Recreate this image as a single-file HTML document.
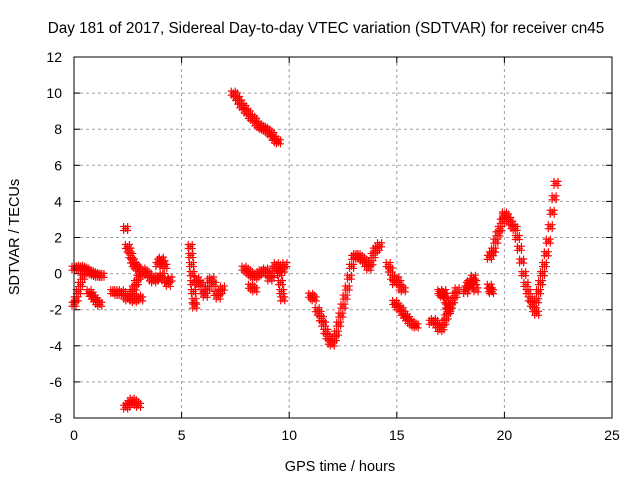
<!DOCTYPE html>
<html><head><meta charset="utf-8"><style>
body{margin:0;background:#fff}
svg{display:block;font-family:"Liberation Sans",sans-serif}
</style></head><body>
<svg id="c" width="640" height="480">
<text x="326" y="33" text-anchor="middle" font-size="15.3">Day 181 of 2017, Sidereal Day-to-day VTEC variation (SDTVAR) for receiver cn45</text>
<text x="340" y="471" text-anchor="middle" font-size="14.5">GPS time / hours</text>
<text transform="translate(19,237) rotate(-90)" text-anchor="middle" font-size="14.5">SDTVAR / TECUs</text>
<g id="grid"></g>
<g id="ticks"></g>
<g id="pts"></g>
<rect x="74" y="57" width="538" height="361" fill="none" stroke="#000"/>
</svg>
<script>
const xTicks=[0,5,10,15,20,25];
const yTicks=[-8,-6,-4,-2,0,2,4,6,8,10,12];
// tracks: start time (h), sampling step (h), values (TECU)
const trackStarts=[0.0,0.0,0.7,1.8,2.4,2.7,3.9,2.4,5.4,5.7,7.4,7.9,8.2,11.0,11.3,13.1,14.6,14.9,16.6,17.0,18.2,19.3,19.3,20.0,21.5,9.5];
const trackSteps=[0.1,0.1,0.1,0.1,0.08,0.1,0.08,0.1,0.03,0.1,0.1,0.1,0.1,0.08,0.1,0.1,0.1,0.1,0.1,0.06,0.06,0.1,0.05,0.1,0.09,0.05];
const trackValues=[
[0.3,0.3,0.3,0.35,0.3,0.25,0.2,0.1,0.05,0,-0.05,-0.1,-0.1,-0.1],
[-1.7,-1.4,-1.0,-0.6,-0.2,0.1],
[-1.0,-1.15,-1.3,-1.45,-1.6,-1.7],
[-1.0,-1.0,-1.1,-1.1,-1.0,-1.1,-1.3,-1.4,-1.3,-1.4,-1.5,-1.4,-1.3,-1.4],
[2.5,1.5,1.3,1.0,0.7,0.5,0.4,0.3],
[-1.0,-0.8,-0.5,-0.2,0,0.2,0.1,0,-0.1,-0.3,-0.4,-0.3,-0.2,-0.3,-0.1],
[0.5,0.7,0.8,0.6,0.4,-0.4,-0.6,-0.3],
[-7.4,-7.3,-7.15,-7.0,-7.1,-7.2,-7.3],
[1.5,1.0,0.5,0,-0.5,-1.0,-1.5,-1.8],
[-0.3,-0.5,-0.6,-1.0,-1.2,-0.8,-0.4,-0.3,-0.6,-1.1,-1.3,-1.0,-0.8],
[10,9.9,9.7,9.5,9.3,9.2,9.0,8.9,8.7,8.6,8.5,8.3,8.2,8.1,8.05,8.0,7.9,7.8,7.7,7.5,7.35,7.3],
[0.3,0.2,0.1,0.0,-0.1,-0.2,-0.1,0,0.1,0.1,0.2,0.0,-0.3,-0.1,0.3,0.5,0.4,0.3,0.2,0.5],
[-0.7,-0.8,-0.9],
[-1.2,-1.3,-1.4],
[-2.0,-2.2,-2.5,-2.8,-3.2,-3.5,-3.8,-3.9,-3.6,-3.3,-2.8,-2.3,-1.8,-1.3,-0.8,-0.2,0.4,0.9,1.0],
[1.0,1.0,0.9,0.8,0.7,0.5,0.3,0.6,1.0,1.3,1.4,1.6],
[0.5,0.2,-0.2,-0.5,-0.3,-0.5,-0.8,-0.9],
[-1.6,-1.75,-1.9,-2.0,-2.2,-2.35,-2.5,-2.65,-2.75,-2.85,-2.9],
[-2.7,-2.6,-2.7,-2.9,-3.1,-3.0,-2.7,-2.4,-2.1,-1.8,-1.5,-1.2,-0.9],
[-1.0,-1.1,-1.2,-1.0,-1.2,-1.5,-1.8,-2.0],
[-1.0,-0.8,-0.6,-0.5,-0.7,-0.4,-0.2,-0.5,-0.9],
[0.9,1.1,1.3,1.8,2.2,2.5,2.9,3.2],
[-0.7,-0.9,-1.0],
[3.3,3.2,3.0,2.8,2.6,2.5,2.0,1.4,0.7,0.0,-0.6,-1.0,-1.4,-1.7,-2.0,-2.2],
[-1.5,-1.0,-0.5,0,0.5,1.1,1.8,2.6,3.4,4.2,5.0],
[0.3,0.0,-0.5,-1.0,-1.4]
];
const L=74,R=612,T=57,B=418;
const xs=v=>L+(v-0)/25*(R-L);
const ys=v=>B-(v+8)/20*(B-T);
const NS='http://www.w3.org/2000/svg';
const g=document.getElementById('grid'),tk=document.getElementById('ticks'),p=document.getElementById('pts');
function mk(tag,at,parent){const e=document.createElementNS(NS,tag);for(const k in at)e.setAttribute(k,at[k]);parent.appendChild(e);return e;}
xTicks.forEach(v=>{const x=xs(v);
 if(v>0&&v<25){const l=mk('line',{x1:x,x2:x,y1:T,y2:B,stroke:'#a0a0a0','stroke-dasharray':'3,3'},g);
 
 }
 mk('line',{x1:x,x2:x,y1:B,y2:B-6,stroke:'#000'},tk);mk('line',{x1:x,x2:x,y1:T,y2:T+6,stroke:'#000'},tk);
 const t=mk('text',{x:x,y:B+22,'text-anchor':'middle','font-size':14},tk);t.textContent=v;
 
 
});
yTicks.forEach(v=>{const y=ys(v);
 if(v>-8&&v<12){const l=mk('line',{x1:L,x2:R,y1:y,y2:y,stroke:'#a0a0a0','stroke-dasharray':'3,3'},g);
 
 }
 mk('line',{x1:L,x2:L+6,y1:y,y2:y,stroke:'#000'},tk);mk('line',{x1:R,x2:R-6,y1:y,y2:y,stroke:'#000'},tk);
 const t=mk('text',{x:L-12,y:y+5,'text-anchor':'end','font-size':14},tk);t.textContent=v;
 
 
});
const offs=[[-2,-2],[2,-2],[0,0],[-2,2],[2,2]];
trackValues.forEach((vals,i)=>{
 vals.forEach((v,j)=>{
  const x=xs(trackStarts[i]+j*trackSteps[i]),y=ys(v);
  offs.forEach(o=>{
   const m=mk('path',{d:`M${x+o[0]-3.5},${y+o[1]}h7M${x+o[0]},${y+o[1]-3.5}v7`,stroke:'#ff0000','stroke-width':1.2,fill:'none'},p);
   
   
  });
 });
});
</script>
</body></html>
